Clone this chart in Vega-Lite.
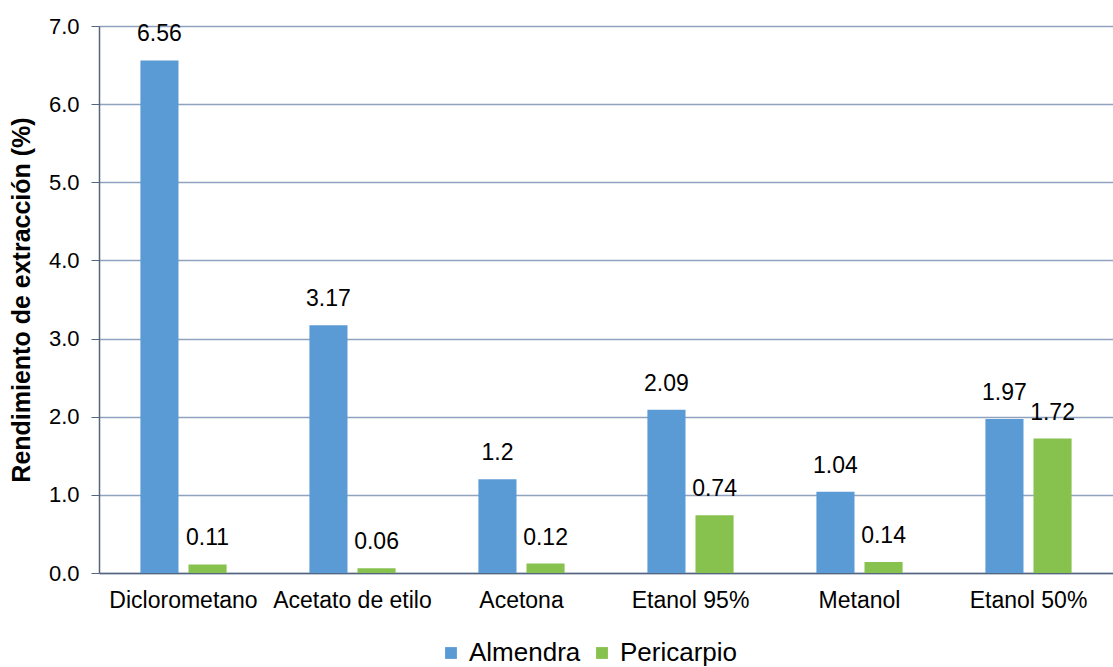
{
  "$schema": "https://vega.github.io/schema/vega-lite/v6.json",
  "width": 1014,
  "height": 547,
  "autosize": {"type": "none"},
  "padding": {"left": 99, "top": 26, "right": 0, "bottom": 94},
  "background": "white",
  "config": {
    "font": "Liberation Sans",
    "view": {"stroke": null}
  },
  "data": {
    "values": [
      {"solvente": "Diclorometano", "parte": "Almendra", "valor": 6.56},
      {"solvente": "Diclorometano", "parte": "Pericarpio", "valor": 0.11},
      {"solvente": "Acetato de etilo", "parte": "Almendra", "valor": 3.17},
      {"solvente": "Acetato de etilo", "parte": "Pericarpio", "valor": 0.06},
      {"solvente": "Acetona", "parte": "Almendra", "valor": 1.2},
      {"solvente": "Acetona", "parte": "Pericarpio", "valor": 0.12},
      {"solvente": "Etanol 95%", "parte": "Almendra", "valor": 2.09},
      {"solvente": "Etanol 95%", "parte": "Pericarpio", "valor": 0.74},
      {"solvente": "Metanol", "parte": "Almendra", "valor": 1.04},
      {"solvente": "Metanol", "parte": "Pericarpio", "valor": 0.14},
      {"solvente": "Etanol 50%", "parte": "Almendra", "valor": 1.97},
      {"solvente": "Etanol 50%", "parte": "Pericarpio", "valor": 1.72}
    ]
  },
  "encoding": {
    "x": {
      "field": "solvente",
      "type": "nominal",
      "sort": null,
      "scale": {"paddingInner": 0.49, "paddingOuter": 0.245},
      "axis": {
        "title": null,
        "labelAngle": 0,
        "labelFontSize": 23,
        "labelColor": "#000000",
        "labelPadding": 16,
        "ticks": false,
        "domainColor": "#56657f",
        "domainWidth": 1.5,
        "grid": false
      }
    },
    "xOffset": {
      "field": "parte",
      "type": "nominal",
      "scale": {"paddingInner": 0.208, "paddingOuter": 0}
    },
    "y": {
      "field": "valor",
      "type": "quantitative",
      "scale": {"domain": [0, 7], "nice": false},
      "axis": {
        "title": "Rendimiento de extracción (%)",
        "titleFontSize": 25,
        "titleFontWeight": "bold",
        "titleColor": "#000000",
        "titlePadding": 14,
        "values": [0, 1, 2, 3, 4, 5, 6, 7],
        "format": ".1f",
        "labelFontSize": 22,
        "labelColor": "#000000",
        "labelPadding": 12,
        "tickSize": 8,
        "tickColor": "#56657f",
        "domainColor": "#56657f",
        "domainWidth": 1.5,
        "gridColor": "#8fa3c0",
        "gridWidth": 1.5
      }
    }
  },
  "layer": [
    {
      "mark": {"type": "bar"},
      "encoding": {
        "color": {
          "field": "parte",
          "type": "nominal",
          "scale": {"domain": ["Almendra", "Pericarpio"], "range": ["#5b9bd5", "#86c24d"]},
          "legend": {
            "title": null,
            "orient": "none",
            "legendX": 339,
            "legendY": 614,
            "direction": "horizontal",
            "symbolType": "square",
            "symbolSize": 140,
            "symbolStrokeWidth": 0,
            "labelFontSize": 26,
            "labelColor": "#000000",
            "columnPadding": 8,
            "labelOffset": 5
          }
        }
      }
    },
    {
      "mark": {"type": "text", "baseline": "middle", "dy": -26, "fontSize": 23, "color": "#000000"},
      "encoding": {
        "text": {"field": "valor", "type": "quantitative"}
      }
    }
  ]
}
